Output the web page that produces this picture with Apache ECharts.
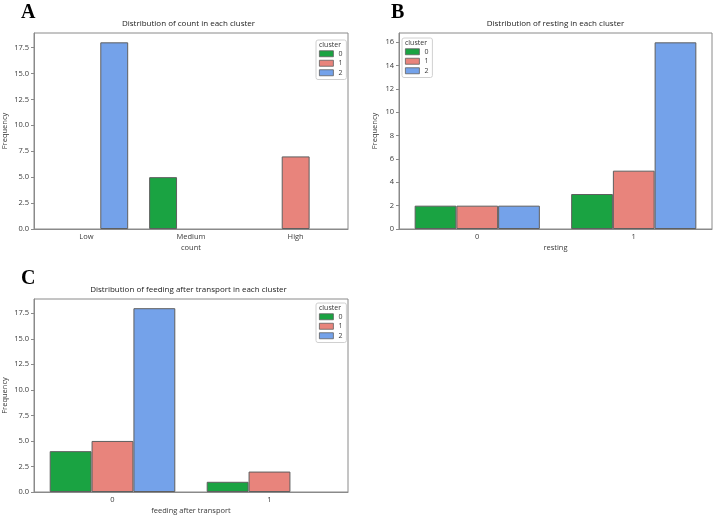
<!DOCTYPE html>
<html>
<head>
<meta charset="utf-8">
<script src="https://cdn.jsdelivr.net/npm/echarts@6/dist/echarts.min.js"></script>
<style>html,body{margin:0;padding:0;background:#fff}#c{width:719px;height:516px}</style>
</head>
<body>
<div id="c"></div>
<script>
// ---- data ----
const clusters = ['0', '1', '2'];
const countCats = ['Low', 'Medium', 'High'];
const countC0 = [0, 5, 0];
const countC1 = [0, 0, 7];
const countC2 = [18, 0, 0];
const restingCats = ['0', '1'];
const restingC0 = [2, 3];
const restingC1 = [2, 5];
const restingC2 = [2, 16];
const feedingCats = ['0', '1'];
const feedingC0 = [4, 1];
const feedingC1 = [5, 2];
const feedingC2 = [18, 0];
const ticksA = [0, 2.5, 5, 7.5, 10, 12.5, 15, 17.5];
const ticksB = [0, 2, 4, 6, 8, 10, 12, 14, 16];
const ticksC = [0, 2.5, 5, 7.5, 10, 12.5, 15, 17.5];

const colors = ['#1aa342', '#e8847c', '#74a2ea'];
const FONT = 'Open Sans';
const axisGray = '#8a8a8a';
const labelCol = '#3a3a3a';

const grids = [
  {left: 29, top: 33, width: 319, height: 196},
  {left: 399, top: 33, width: 313, height: 196},
  {left: 29, top: 299, width: 319, height: 195}
];
const panels = [
  {cats: countCats, data: [countC0, countC1, countC2], ticks: ticksA, max: 18.9, interval: 2.5, dec: 1, xname: 'count', yGap: 25,
   title: 'Distribution of count in each cluster', letter: 'A', legend: {left: 316, top: 40}},
  {cats: restingCats, data: [restingC0, restingC1, restingC2], ticks: ticksB, max: 16.8, interval: 2, dec: 0, xname: 'resting', yGap: 20,
   title: 'Distribution of resting in each cluster', letter: 'B', legend: {left: 402, top: 38}},
  {cats: feedingCats, data: [feedingC0, feedingC1, feedingC2], ticks: ticksC, max: 18.9, interval: 2.5, dec: 1, xname: 'feeding after transport', yGap: 25,
   title: 'Distribution of feeding after transport in each cluster', letter: 'C', legend: {left: 316, top: 303}}
];
const letterPos = [{x: 21, y: 3}, {x: 391, y: 3}, {x: 21, y: 269}];

const option = {
  animation: false,
  grid: grids.map(g => Object.assign({show: true, borderColor: axisGray, borderWidth: 1, backgroundColor: 'transparent'}, g)),
  xAxis: panels.map((p, i) => ({
    type: 'category', gridIndex: i, data: p.cats,
    name: p.xname, nameLocation: 'middle', nameGap: 15,
    nameTextStyle: {fontFamily: FONT, fontSize: 7.5, color: labelCol},
    axisLine: {lineStyle: {color: axisGray}},
    axisTick: {alignWithLabel: true, length: 3, lineStyle: {color: axisGray}},
    axisLabel: {fontFamily: FONT, fontSize: 7.5, color: labelCol, margin: 4}
  })),
  yAxis: panels.map((p, i) => ({
    type: 'value', gridIndex: i, min: 0, max: p.max, interval: p.interval,
    name: 'Frequency', nameLocation: 'middle', nameGap: p.yGap,
    nameTextStyle: {fontFamily: FONT, fontSize: 7.5, color: labelCol},
    splitLine: {show: false},
    axisLine: {show: true, lineStyle: {color: axisGray}},
    axisTick: {show: true, length: 3, customValues: p.ticks, lineStyle: {color: axisGray}},
    axisLabel: {fontFamily: FONT, fontSize: 7.5, color: labelCol, margin: 5, customValues: p.ticks,
      formatter: v => v.toFixed(p.dec)}
  })),
  legend: panels.map((p, i) => ({
    left: p.legend.left, top: p.legend.top, orient: 'vertical',
    data: clusters.map(c => ({name: 'p' + i + '_' + c, icon: 'rect'})),
    formatter: n => n.split('_')[1],
    itemWidth: 14, itemHeight: 6, itemGap: 2, itemTextGap: 6,
    itemStyle: {borderWidth: 0.8},
    padding: [10, 4, 3, 3], borderColor: '#d0d0d0', borderWidth: 1, borderRadius: 2,
    textStyle: {fontFamily: FONT, fontSize: 7, color: labelCol, lineHeight: 7.5},
    selectedMode: false
  })),
  series: [],
  graphic: []
};
panels.forEach((p, i) => {
  clusters.forEach((c, k) => {
    option.series.push({
      type: 'bar', name: 'p' + i + '_' + c, xAxisIndex: i, yAxisIndex: i,
      data: p.data[k].map(v => v === 0 ? {value: v, itemStyle: {borderWidth: 0}} : v),
      barGap: '0%', barCategoryGap: '20%',
      itemStyle: {color: colors[k], borderColor: '#5f5f5f', borderWidth: 1}
    });
  });
  const g = grids[i];
  option.graphic.push({type: 'text', left: g.left + g.width / 2, top: g.top - 13, center: true,
    style: {text: p.title, font: '8px "' + FONT + '"', fill: '#222'}});
  option.graphic.push({type: 'text', left: letterPos[i].x, top: letterPos[i].y,
    style: {text: p.letter, font: 'bold 20px "Liberation Serif"', fill: '#000'}});
  option.graphic.push({type: 'text', left: p.legend.left + 3, top: p.legend.top + 1,
    style: {text: 'cluster', font: '7px "' + FONT + '"', fill: '#333'}});
});
const chart = echarts.init(document.getElementById('c'), null, {renderer: 'canvas'});
const ctx = document.createElement('canvas').getContext('2d');
option.graphic.forEach(gr => {
  if (gr.center) {
    ctx.font = gr.style.font;
    const w = ctx.measureText(gr.style.text).width;
    gr.left = gr.left - w / 2;
    delete gr.center;
  }
});
chart.setOption(option);
</script>
</body>
</html>
